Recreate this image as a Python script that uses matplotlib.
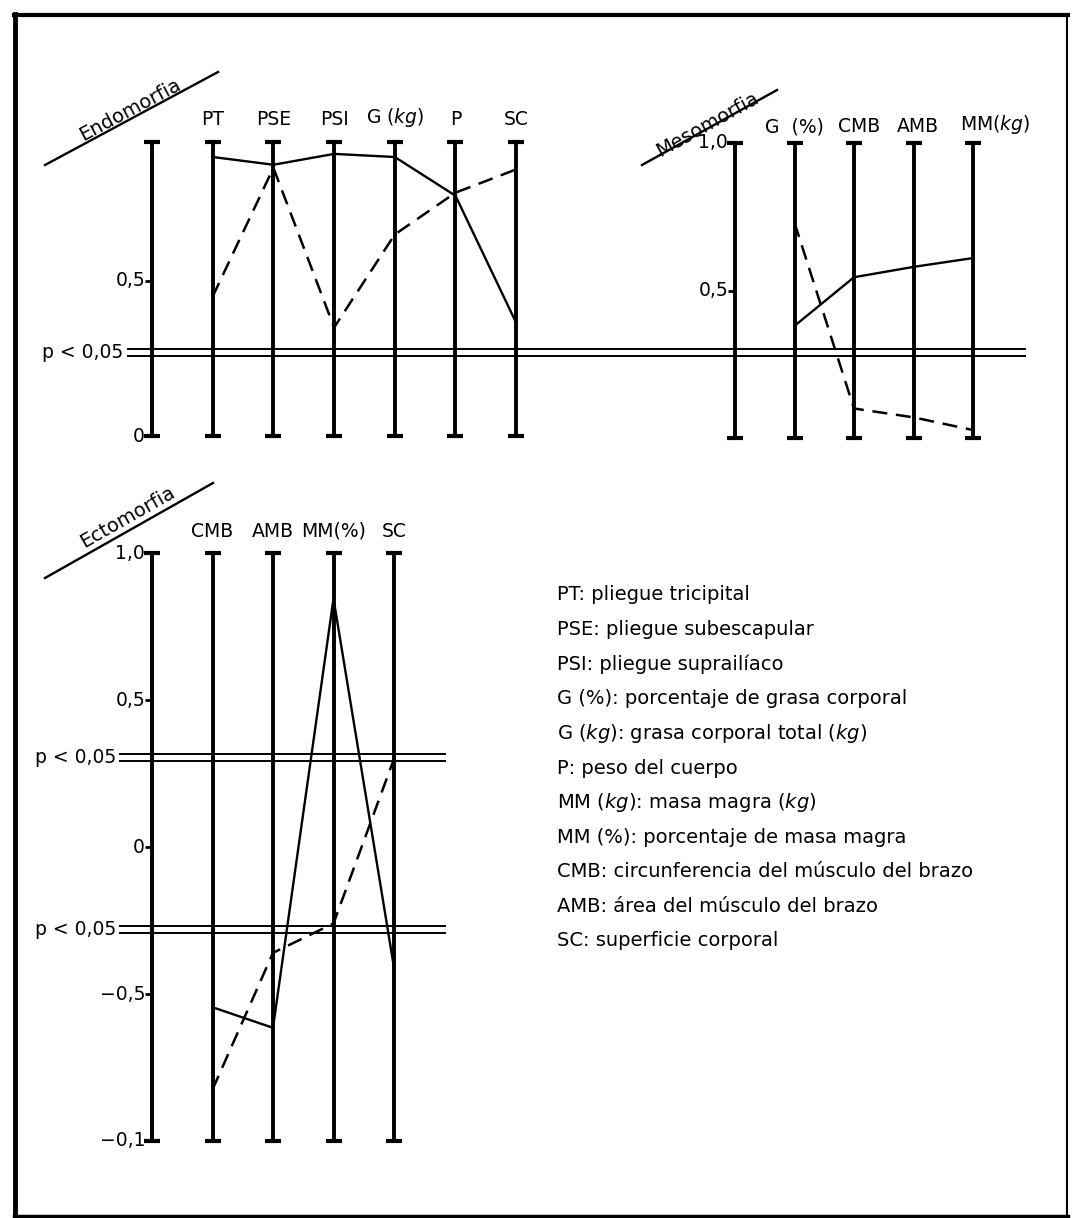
import matplotlib
matplotlib.use('Agg')
import matplotlib.pyplot as plt
from matplotlib.lines import Line2D

# --- data ---
endo_labels = ['PT', 'PSE', 'PSI', 'G ($\\it{kg}$)', 'P', 'SC']
endo_solid = [0.90, 0.875, 0.91, 0.90, 0.775, 0.365]
endo_dashed = [0.45, 0.865, 0.35, 0.65, 0.785, 0.86]
endo_ticks = [0.0, 0.5]
endo_ticklabels = ['0', '0,5']

meso_labels = ['G  (%)', 'CMB', 'AMB', 'MM($\\it{kg}$)']
meso_solid = [0.38, 0.545, 0.58, 0.61]
meso_dashed = [0.73, 0.10, 0.07, 0.027]
meso_ticks = [0.5, 1.0]
meso_ticklabels = ['0,5', '1,0']

ecto_labels = ['CMB', 'AMB', 'MM(%)', 'SC']
ecto_solid = [-0.545, -0.615, 0.845, -0.41]
ecto_dashed = [-0.825, -0.36, -0.26, 0.30]
ecto_ticks = [1.0, 0.5, 0.0, -0.5, -1.0]
ecto_ticklabels = ['1,0', '0,5', '0', '\u22120,5', '\u22120,1']

p_top = 0.27
p_ecto = [0.305, -0.28]

legend_lines = [
    'PT: pliegue tricipital',
    'PSE: pliegue subescapular',
    'PSI: pliegue suprailíaco',
    'G (%): porcentaje de grasa corporal',
    'G ($\\it{kg}$): grasa corporal total ($\\it{kg}$)',
    'P: peso del cuerpo',
    'MM ($\\it{kg}$): masa magra ($\\it{kg}$)',
    'MM (%): porcentaje de masa magra',
    'CMB: circunferencia del músculo del brazo',
    'AMB: área del músculo del brazo',
    'SC: superficie corporal',
]

W, H = 1073, 1218
plt.rcParams['font.family'] = ['DejaVu Sans']
plt.rcParams['mathtext.fontset'] = 'dejavusans'

fig = plt.figure(figsize=(W / 100, H / 100), dpi=100)


def fx(x):
    return x / W


def fy(y):
    return 1 - y / H


def panel(x0, dx, y0, dy, xlim, ylim):
    # x0/y0: pixel of slot 0 / value 0, dx/dy: pixels per unit
    left, right = x0 + xlim[0] * dx, x0 + xlim[1] * dx
    top, bottom = y0 - ylim[1] * dy, y0 - ylim[0] * dy
    ax = fig.add_axes([fx(left), fy(bottom), (right - left) / W, (bottom - top) / H])
    ax.set_xlim(xlim)
    ax.set_ylim(ylim)
    ax.axis('off')
    return ax


def draw_bars(ax, labels, lo, hi, ticks, ticklabels, pad, shifts=None):
    for i in range(len(labels) + 1):
        ax.plot([i, i], [lo, hi], color='k', lw=2.8, solid_capstyle='butt', clip_on=False)
        ax.plot([i, i], [lo, hi], ls='none', marker='_', ms=11, mew=3, color='k', clip_on=False)
    shifts = shifts or [0] * len(labels)
    for i, lab in enumerate(labels):
        ax.annotate(lab, (i + 1, hi), xytext=(shifts[i], pad), textcoords='offset points',
                    ha='center', va='bottom', fontsize=13.5)
    ax.plot([0] * len(ticks), ticks, ls='none', marker=0, ms=5, mew=2, color='k', clip_on=False)
    for t, tl in zip(ticks, ticklabels):
        ax.annotate(tl, (0, t), xytext=(-5, 0), textcoords='offset points',
                    ha='right', va='center', fontsize=13.5)


def draw_series(ax, solid, dashed):
    xs = range(1, len(solid) + 1)
    ax.plot(xs, solid, color='k', lw=1.7, clip_on=False)
    ax.plot(xs, dashed, color='k', lw=1.8, ls=(0, (6, 3.5)), clip_on=False)


def p_lines(ax, p, x_from, x_to):
    for v in (p - 0.011, p + 0.011):
        ax.plot([x_from, x_to], [v, v], color='k', lw=1.4, clip_on=False)
    ax.annotate('p < 0,05', (x_from, p), xytext=(-3, 0), textcoords='offset points',
                ha='right', va='center', fontsize=13.5)


def title(text, p0, p1, angle, center):
    fig.add_artist(Line2D([fx(p0[0]), fx(p1[0])], [fy(p0[1]), fy(p1[1])],
                          color='k', lw=1.7, transform=fig.transFigure))
    fig.text(fx(center[0]), fy(center[1]), text, rotation=angle, rotation_mode='anchor',
             ha='center', va='center', fontsize=14)


# Endomorfia
ax1 = panel(152, 60.7, 436, 310, (-1, 6.5), (0, 1))
draw_bars(ax1, endo_labels, 0, 0.95, endo_ticks, endo_ticklabels, 9)
draw_series(ax1, endo_solid, endo_dashed)
p_lines(ax1, p_top, -0.4, 14.38)

# Mesomorfia
ax2 = panel(735, 59.5, 438, 295, (-1, 4.5), (0, 1))
draw_bars(ax2, meso_labels, 0, 1.0, meso_ticks, meso_ticklabels, 5, shifts=[0, 4, 3, 16])
draw_series(ax2, meso_solid, meso_dashed)

# Ectomorfia
ax3 = panel(152, 60.5, 847, 294, (-1, 4.5), (-1, 1))
draw_bars(ax3, ecto_labels, -1.0, 1.0, ecto_ticks, ecto_ticklabels, 9)
draw_series(ax3, ecto_solid, ecto_dashed)
for p in p_ecto:
    p_lines(ax3, p, -0.53, 4.84)

title('Endomorfia', (45, 165), (218, 72), 28, (130, 110))
title('Mesomorfia', (642, 165), (777, 90), 29, (707, 124))
title('Ectomorfia', (45, 578), (213, 483), 29.5, (128, 517))

for i, line in enumerate(legend_lines):
    fig.text(fx(557), fy(595 + i * 34.6), line, ha='left', va='center', fontsize=14)

# frame
fig.add_artist(Line2D([fx(15), fx(15)], [fy(14), fy(1218)], color='k', lw=3.5, transform=fig.transFigure))
fig.add_artist(Line2D([fx(14), fx(1068)], [fy(15), fy(15)], color='k', lw=3.0, transform=fig.transFigure))
fig.add_artist(Line2D([fx(1067), fx(1067)], [fy(14), fy(1216)], color='k', lw=1.5, transform=fig.transFigure))
fig.add_artist(Line2D([fx(14), fx(1068)], [fy(1216), fy(1216)], color='k', lw=2.5, transform=fig.transFigure))

fig.savefig('out.png', dpi=100)
